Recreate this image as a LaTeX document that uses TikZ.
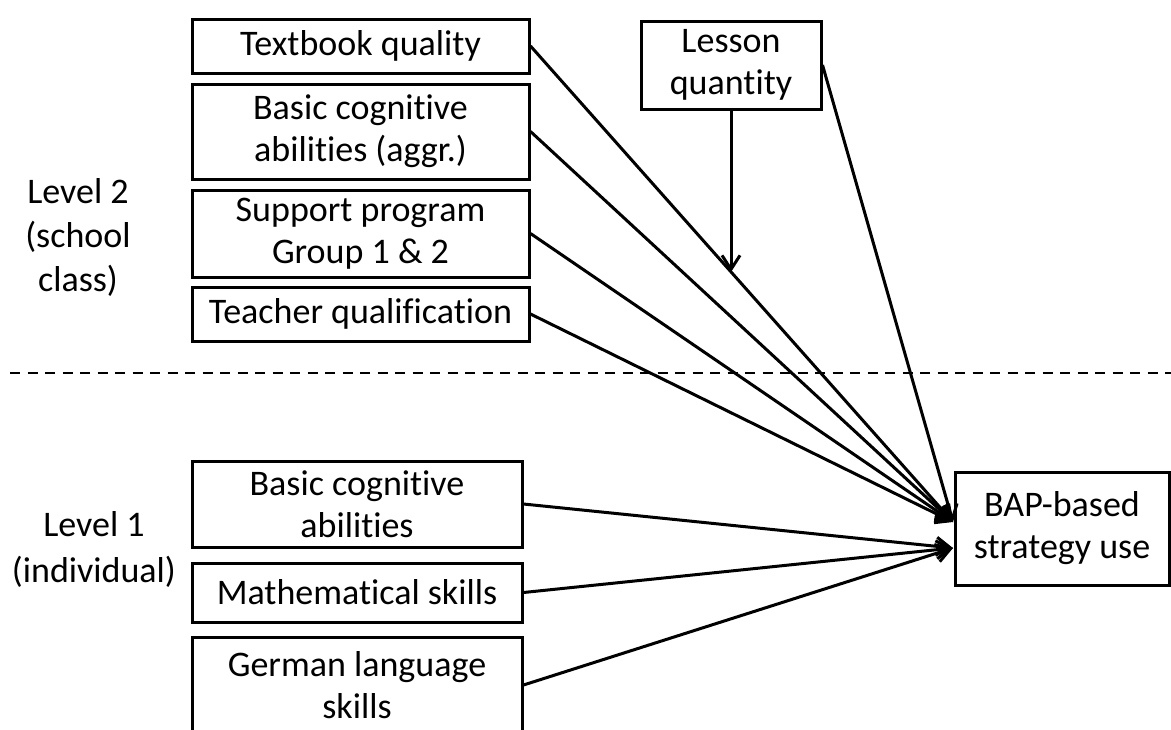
\documentclass[tikz,border=0pt]{standalone}
\usepackage{fontspec}
\setmainfont{Carlito}[Ligatures=NoCommon]
\usetikzlibrary{arrows.meta}

\begin{document}
\begin{tikzpicture}[x=0.5pt, y=-0.5pt,
    every node/.style={font=\fontsize{18}{21}\selectfont},
    box/.style={rectangle, draw, line width=1.5pt, align=center, inner sep=0pt},
    arr/.style={line width=1.5pt, -{Straight Barb[length=7pt,width=9pt]}}]
  \useasboundingbox (0,0) rectangle (1171,729);

  % level 2
  \node[box, minimum width=168.5pt, minimum height=27pt] (textbook) at (360.5,46) {Textbook quality};
  \node[box, minimum width=168.5pt, minimum height=47.5pt] (cogaggr) at (360.5,131.5) {Basic cognitive\\abilities (aggr.)};
  \node[box, minimum width=168.5pt, minimum height=43.5pt] (support) at (360.5,233.5) {Support program\\Group 1 \& 2};
  \node[box, minimum width=168.5pt, minimum height=27pt] (teacher) at (360.5,314) {Teacher qualification};
  \node[box, minimum width=90pt, minimum height=44pt] (lesson) at (731,65) {Lesson\\quantity};

  % level 1
  \node[box, minimum width=165pt, minimum height=43pt] (cog) at (357,504) {Basic cognitive\\abilities};
  \node[box, minimum width=165pt, minimum height=29.5pt] (math) at (357,592.5) {Mathematical skills};
  \node[box, minimum width=165pt, minimum height=48pt] (german) at (357,685) {German language\\skills};

  \node[box, minimum width=107pt, minimum height=56.5pt] (bap) at (1062,528.5) {BAP-based\\strategy use};

  \node[align=center, font=\fontsize{18}{22}\selectfont] (lvl2) at (78,237) {Level 2\\(school\\class)};
  \node[align=center, font=\fontsize{18}{23}\selectfont] (lvl1) at (94,549) {Level 1\\(individual)};

  \draw[line width=1.2pt, dash pattern=on 5pt off 3.75pt] (10,373) -- (1171,373);

  \coordinate (inup) at (953,522);
  \coordinate (inlow) at (953,548);

  \draw[arr] (textbook.east) -- coordinate[pos=0.475] (mod) (inup);
  \draw[arr] (cogaggr.east) -- (inup);
  \draw[arr] (support.east) -- (inup);
  \draw[arr] (teacher.east) -- (inup);
  \draw[arr] (lesson.east) -- (inup);
  \draw[arr] (lesson.south) -- (lesson.south |- mod);

  \draw[arr] (cog.east) -- (inlow);
  \draw[arr] (math.east) -- (inlow);
  \draw[arr] (german.east) -- (inlow);
\end{tikzpicture}
\end{document}
